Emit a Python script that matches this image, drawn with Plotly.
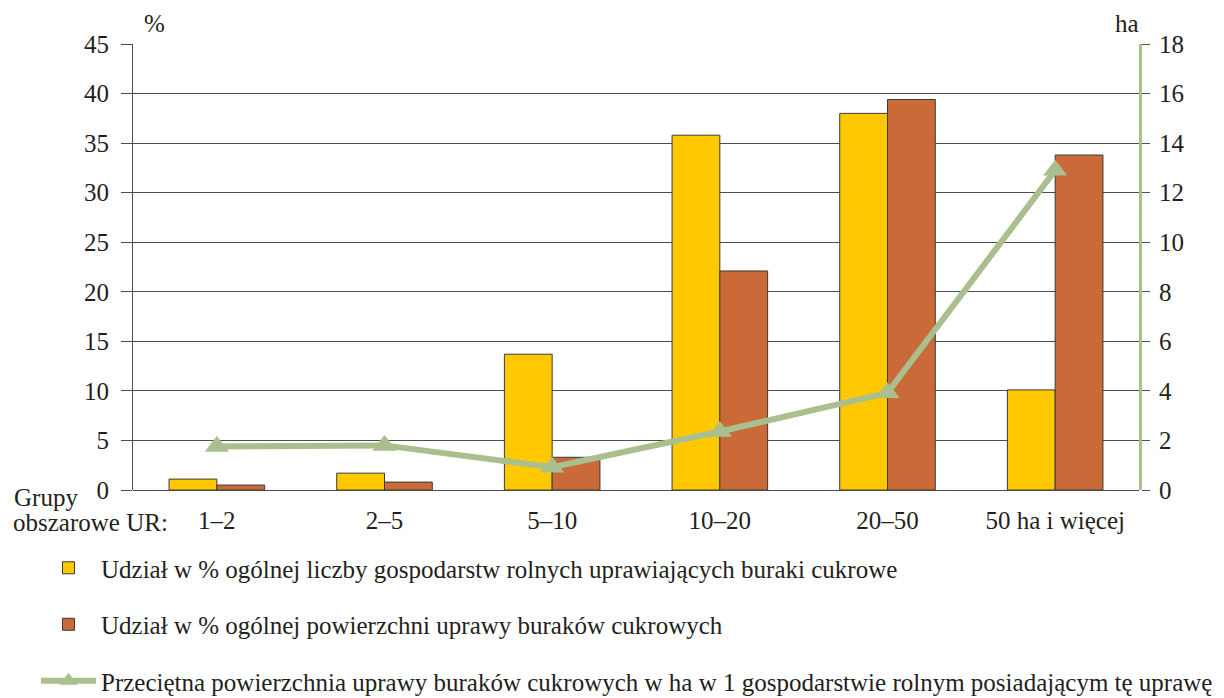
import plotly.graph_objects as go

categories = ["1–2", "2–5", "5–10", "10–20", "20–50", "50 ha i więcej"]
share_farms = [1.1, 1.7, 13.7, 35.8, 38.0, 10.1]
share_area = [0.5, 0.8, 3.3, 22.1, 39.4, 33.8]
avg_area_ha = [1.76, 1.8, 0.92, 2.36, 3.92, 12.9]

name_farms = "Udział w % ogólnej liczby gospodarstw rolnych uprawiających buraki cukrowe"
name_area = "Udział w % ogólnej powierzchni uprawy buraków cukrowych"
name_avg = "Przeciętna powierzchnia uprawy buraków cukrowych w ha w 1 gospodarstwie rolnym posiadającym tę uprawę"

FONT = "Liberation Serif"
FS = 25
GREEN = "#a9bf8e"
TXT = "#231f20"
GRID = "#4d4d4d"


def f(size=FS):
    return dict(family=FONT, size=size, color=TXT)


fig = go.Figure()
fig.add_trace(go.Bar(x=categories, y=share_farms, name=name_farms, legendgroup="a",
                     marker=dict(color="#ffc800", line=dict(color="#3a3a3a", width=1))))
fig.add_trace(go.Bar(x=categories, y=share_area, name=name_area, legendgroup="b",
                     marker=dict(color="#c96a38", line=dict(color="#3a3a3a", width=1))))
fig.add_trace(go.Scatter(x=categories, y=avg_area_ha, name=name_avg, legendgroup="c",
                         yaxis="y2", mode="lines+markers",
                         line=dict(color=GREEN, width=6),
                         marker=dict(symbol="triangle-up", size=21, color=GREEN)))

fig.update_layout(
    width=1224, height=698,
    margin=dict(l=133, r=85, t=44, b=208, autoexpand=False),
    paper_bgcolor="white", plot_bgcolor="white",
    font=f(),
    barmode="group", bargap=0.43, bargroupgap=0,
    showlegend=True,
    legend=dict(x=36 / 1224, xref="container", xanchor="left",
                y=(698 - 545) / 698, yref="container", yanchor="top",
                orientation="v", tracegroupgap=21, itemwidth=55,
                font=f(), bgcolor="rgba(0,0,0,0)"),
    xaxis=dict(showline=False, ticks="", showgrid=False,
               tickfont=f(), ticklabelstandoff=13),
    yaxis=dict(range=[0, 45], dtick=5, showgrid=True, gridcolor=GRID, gridwidth=1,
               showline=True, linecolor=GRID, linewidth=1,
               ticks="outside", ticklen=11, tickcolor=GRID,
               zeroline=True, zerolinecolor=GRID, zerolinewidth=1,
               tickfont=f(), ticklabelstandoff=7),
    yaxis2=dict(range=[0, 18], dtick=2, overlaying="y", side="right",
                showgrid=False, zeroline=False,
                showline=True, linecolor=GREEN, linewidth=3,
                ticks="outside", ticklen=8, tickcolor=GRID,
                tickfont=f(), ticklabelstandoff=4),
    annotations=[
        dict(text="%", xref="paper", yref="paper", x=21 / 1006, y=1.0, yshift=21,
             xanchor="center", yanchor="middle", showarrow=False, font=f()),
        dict(text="ha", xref="paper", yref="paper", x=994 / 1006, y=1.0, yshift=21,
             xanchor="center", yanchor="middle", showarrow=False, font=f()),
        dict(text="Grupy", xref="paper", yref="paper", x=-121 / 1006, y=0.0, yshift=-7,
             xanchor="left", yanchor="middle", showarrow=False, font=f()),
        dict(text="obszarowe UR:", xref="paper", yref="paper", x=-122 / 1006, y=0.0, yshift=-32,
             xanchor="left", yanchor="middle", showarrow=False, font=f()),
    ],
)

fig.write_html("out.html", config={"displayModeBar": False},
               post_script="document.body.style.margin='0';")
